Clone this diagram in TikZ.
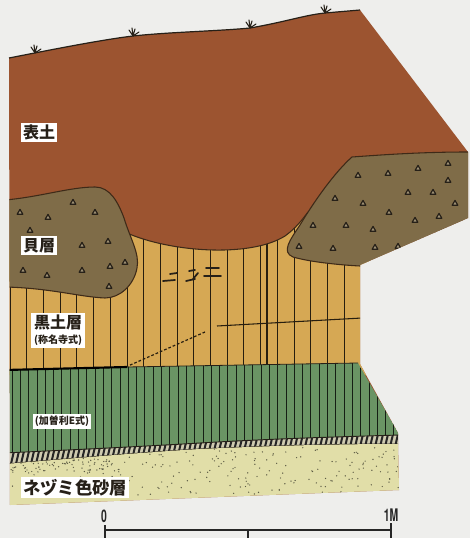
\documentclass[tikz,border=0pt]{standalone}
\usepackage{fontspec}
\newfontfamily\jp{Noto Sans CJK JP}
\newfontfamily\cond{TeX Gyre Heros}
\definecolor{paper}{HTML}{EEEEEC}
\definecolor{topsoil}{HTML}{9C5430}
\definecolor{shell}{HTML}{7F6C48}
\definecolor{blacksoil}{HTML}{D6A854}
\definecolor{kasori}{HTML}{6A9464}
\definecolor{sand}{HTML}{E1DEA8}
\definecolor{band}{HTML}{CFCBB0}
\definecolor{edge}{HTML}{3E2A18}
\definecolor{ink}{HTML}{262018}
\tikzset{
  layerlabel/.style={fill=white, inner sep=1.5pt, text=ink, font=\jp\bfseries},
  outline/.style={draw=edge, line width=0.8pt},
  shellmark/.style={draw=ink, fill=shell!75!white, line width=0.9pt, line join=round},
  stripe/.style={draw=black!55!blacksoil!40!black, line width=0.6pt},
  greenstripe/.style={draw=black!80!kasori, line width=0.5pt},
  scaletext/.style={text=black!85, font=\cond\bfseries\fontsize{13}{13}\selectfont}
}
\begin{document}
\begin{tikzpicture}[x=0.75pt,y=-0.75pt]
\fill[paper] (0,0) rectangle (470,538);
\useasboundingbox (0,0) rectangle (470,538);

% whole section, filled with the topsoil colour
\def\section{(9,58) .. controls (50,50) and (100,40) .. (133,36)
  .. controls (170,32) and (220,31) .. (250,28)
  .. controls (285,22) and (305,15) .. (325,13) -- (360,10)
  -- (468,152) -- (468,218) -- (360,265) -- (360,364) -- (398,433)
  -- (398,444) -- (399,490) -- (10,505) -- cycle}
\fill[topsoil] \section;

\begin{scope}
\clip \section;
% black soil layer (Shomyoji type)
\def\yellow{(9,250) -- (127,233) .. controls (170,252) and (250,258) .. (285,236)
  .. controls (296,228) and (302,220) .. (308,212) -- (340,170) -- (370,170)
  -- (370,375) -- (9,375) -- cycle}
\fill[blacksoil] \yellow;
\begin{scope}
\clip \yellow;
\foreach \x in {10,26.7,...,360} \draw[stripe] (\x,150) -- (\x,380);
\draw[stripe, line width=1pt] (267,200) -- (267,380);
\end{scope}
\draw[outline] (127,233) .. controls (170,252) and (250,258) .. (285,236)
  .. controls (296,228) and (302,220) .. (308,212);
\draw[stripe, line width=0.8pt] (217,326) -- (362,318);
\draw[stripe, line width=0.9pt, dash pattern=on 2pt off 1.5pt] (205,332) -- (128,366);
% pottery fragments
\draw[ink, line width=1.3pt, line cap=round]
  (163,281) -- (175,280) (170,274) -- (177,273)
  (186,281) -- (195,279) (193,279) -- (198,273) (189,271) -- (195,270)
  (204,276) -- (221,276) (206,268) -- (219,268);

% shell layers
\def\leftshell{(5,200) .. controls (40,197) and (70,187) .. (95,187)
  .. controls (110,187) and (118,202) .. (124,218)
  .. controls (130,238) and (140,254) .. (137,268)
  .. controls (134,285) and (120,298) .. (105,298)
  .. controls (80,297) and (50,288) .. (5,287) -- cycle}
\def\rightshell{(475,152) -- (468,152) .. controls (420,152) and (380,155) .. (352,157)
  .. controls (335,172) and (315,200) .. (300,225)
  .. controls (290,240) and (281,252) .. (293,257)
  .. controls (310,262) and (340,265) .. (360,266)
  -- (465,220) -- (475,218) -- cycle}
\fill[shell] \leftshell;
\fill[shell] \rightshell;
\draw[outline] (5,200) .. controls (40,197) and (70,187) .. (95,187)
  .. controls (110,187) and (118,202) .. (124,218)
  .. controls (130,238) and (140,254) .. (137,268)
  .. controls (134,285) and (120,298) .. (105,298)
  .. controls (80,297) and (50,288) .. (5,287);
\draw[outline] (468,152) .. controls (420,152) and (380,155) .. (352,157)
  .. controls (335,172) and (315,200) .. (300,225)
  .. controls (290,240) and (281,252) .. (293,257)
  .. controls (310,262) and (340,265) .. (360,266)
  -- (465,220);
\foreach \p in {(20,212),(48,217),(73,202),(95,212),(30,230),(82,245),(108,241),
  (23,270),(47,275),(82,270),(110,266),(125,262),(109,286),
  (358,175),(388,173),(418,168),(448,163),(448,180),(408,192),(433,192),(455,203),
  (335,198),(363,203),(389,212),(415,220),(439,216),(313,225),(346,225),(373,229),
  (299,246),(333,248),(375,247),(398,246)}
  \draw[shellmark] \p ++(-2.8,2.2) -- ++(2.8,-4.8) -- ++(2.8,4.8) -- cycle;

% Kasori E layer
\def\green{(5,370) -- (127,367) -- (358,363) -- (400,436)
  -- (398,435) .. controls (330,437) and (267,439) .. (200,443)
  .. controls (133,447) and (67,450) .. (5,453) -- cycle}
\fill[kasori] \green;
\begin{scope}
\clip \green;
\foreach \x in {12,20.3,...,400} \draw[greenstripe] (\x,355) -- (\x,460);
\end{scope}
\draw[black, line width=1.6pt] (5,370) -- (127,367);
\draw[ink, line width=0.6pt] (127,367) -- (358,363);

% dark hatched band
\def\bandpath{(5,453) .. controls (67,450) and (133,447) .. (200,443)
  .. controls (267,439) and (330,437) .. (400,435)
  -- (400,444) .. controls (330,444) and (267,446) .. (200,449)
  .. controls (133,453) and (67,459) .. (5,464) -- cycle}
\fill[band] \bandpath;
\begin{scope}
\clip \bandpath;
\foreach \x in {0,5,...,410} \draw[black!85, line width=1.5pt] (\x,468) -- (\x+9,430);
\end{scope}
\draw[ink, line width=0.7pt] (5,453) .. controls (67,450) and (133,447) .. (200,443)
  .. controls (267,439) and (330,437) .. (400,435);
\draw[ink, line width=0.7pt] (5,464) .. controls (67,459) and (133,453) .. (200,449)
  .. controls (267,446) and (330,444) .. (400,444);

% grey sand layer
\def\sandpath{(5,464) .. controls (67,459) and (133,453) .. (200,449)
  .. controls (267,446) and (330,444) .. (400,444) -- (400,492) -- (5,506) -- cycle}
\fill[sand] \sandpath;
\begin{scope}
\clip \sandpath;
\pgfmathsetseed{42}
\foreach \i in {1,...,260}{
  \pgfmathsetmacro{\dx}{10+390*rnd}
  \pgfmathsetmacro{\dy}{445+50*rnd}
  \fill[black!60!sand] (\dx,\dy) circle (0.7);
}
\foreach \i in {1,...,60}{
  \pgfmathsetmacro{\dx}{10+110*rnd}
  \pgfmathsetmacro{\dy}{458+14*rnd}
  \fill[black!60!sand] (\dx,\dy) circle (0.7);
}
\end{scope}
\end{scope}

% ground surface line with grass
\draw[ink, line width=0.9pt] (9,58) .. controls (50,50) and (100,40) .. (133,36)
  .. controls (170,32) and (220,31) .. (250,28)
  .. controls (285,22) and (305,15) .. (325,13) -- (360,10);
\foreach \gx/\gy in {35/53, 133/36, 250/28, 325/13}
  \draw[ink, line width=0.8pt, line cap=round]
    (\gx,\gy) -- ++(-4,-6) (\gx,\gy) -- ++(-1,-8) (\gx,\gy) -- ++(2,-7) (\gx,\gy) -- ++(6,-4);

% layer names
\node[layerlabel, font=\jp\bfseries\fontsize{12}{12}\selectfont] (hyodo) at (39,132.5) {表土};
\node[layerlabel, font=\jp\bfseries\fontsize{12}{12}\selectfont] (kaiso) at (39,245.5) {貝層};
\node[layerlabel, align=center, inner sep=2pt] (kokudo) at (58,330.5)
  {{\fontsize{12}{13}\selectfont 黒土層}\\[-1pt]{\fontsize{7.5}{8}\selectfont (称名寺式)}};
\node[layerlabel, inner sep=1.5pt, font=\jp\bfseries\fontsize{7.5}{8}\selectfont] (kasorie) at (62,421.5) {(加曽利E式)};
\node[layerlabel, inner sep=1.5pt, font=\jp\bfseries\fontsize{13}{13}\selectfont] (nezumi) at (75,487.5) {ネヅミ色砂層};

% scale bar
\node[scaletext] (zero) at (104,516) {\scalebox{0.6}[1]{0}};
\node[scaletext] (onem) at (391,515) {\scalebox{0.6}[1]{1M}};
\coordinate (s0) at (105,530);
\coordinate (s1) at (391,530);
\coordinate (smid) at (248,530);
\draw[black!85, line width=1pt] (s0) -- (s1);
\draw[black!85, line width=1.2pt] (105,525) -- (105,540) (391,523) -- (391,540);
\draw[black!85, line width=1pt] (smid) -- (248,540);
\end{tikzpicture}
\end{document}
